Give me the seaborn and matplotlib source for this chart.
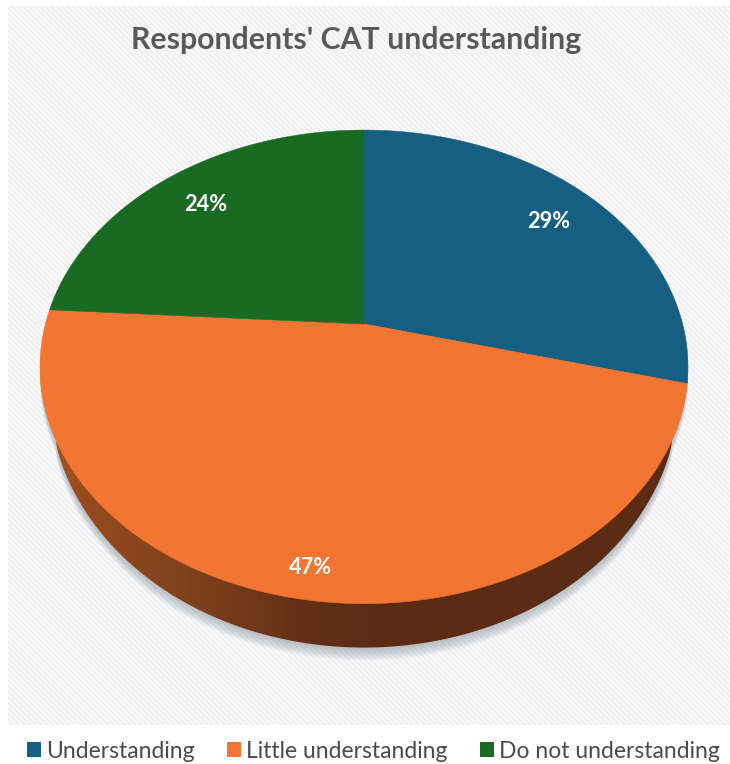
import numpy as np
import matplotlib
matplotlib.use("Agg")
import matplotlib.pyplot as plt
from matplotlib.patches import Polygon, Rectangle, Patch
import seaborn as sns

categories = ["Understanding", "Little understanding", "Do not understanding"]
shares = [29, 47, 24]
slice_colors = ["#156082", "#F27531", "#196B24"]
label_radius = [0.8, 0.9, 0.8]

title = "Respondents' CAT understanding"

sns.set_theme(style="white")
plt.rcParams["font.family"] = ["Lato", "DejaVu Sans"]
plt.rcParams["hatch.linewidth"] = 0.7
palette = sns.color_palette(slice_colors)

W, H = 730, 764
fig = plt.figure(figsize=(W / 100, H / 100), dpi=100, facecolor="white")
ax = fig.add_axes([0, 0, 1, 1])
ax.set_xlim(0, W)
ax.set_ylim(H, 0)
ax.axis("off")

# Tilted disc: perspective projection of a unit circle onto pixel space
APEX_X, APEX_Y = 364.0, 324.0
TILT, SCALE_X, SCALE_Y = 0.181, 318.6, 229.0


def project(x, y):
    w = 1 + TILT * y
    return APEX_X + SCALE_X * x / w, APEX_Y - SCALE_Y * y / w


def rim(a0, a1, n=240):
    a = np.radians(np.linspace(a0, a1, n))
    return np.sin(a), np.cos(a)


# Rim thickness of the disc, tapering to nothing at the sides
DEPTH = 44.0
TIP = 0.31
ELL_CY, ELL_RY = 367.0, 237.0


def lower_edge(px, py):
    c = np.clip((py - ELL_CY) / ELL_RY, -1, 1)
    t = np.clip((c - TIP) / (1 - TIP), 0, 1)
    return px, py + DEPTH * np.sqrt(t)


# Textured backdrop panel
ax.add_patch(Rectangle((8, 6), W - 8, 719, facecolor="#F8F8F9", edgecolor="none", zorder=0))
ax.add_patch(Rectangle((8, 6), W - 8, 719, facecolor="none", edgecolor="#EAEAED",
                       hatch="\\\\\\\\\\\\", linewidth=0, zorder=0.5))

# Outline of the full solid, used for the side wall and the drop shadow
rx, ry = rim(0, 360, 720)
tx, ty = project(rx, ry)
bx, by = lower_edge(tx, ty)

# Soft shadow under the lower rim
for i in range(1, 14):
    ax.add_patch(Polygon(np.column_stack([bx, by + i * 1.0]), closed=True,
                         facecolor="#9AA5AC", edgecolor="none", alpha=0.07, zorder=1))

# Side wall with a horizontal light-to-dark gradient
front = ty > ELL_CY
order = np.argsort(tx[front])
fx, fy_top, fy_bot = tx[front][order], ty[front][order], by[front][order]
wall = Polygon(np.column_stack([np.r_[fx, fx[::-1]], np.r_[fy_top - 2, fy_bot[::-1]]]),
               closed=True, facecolor="none", edgecolor="none", zorder=2)
ax.add_patch(wall)
xs = np.linspace(0, 1, W)[None, :]
stops_x = np.array([40, 90, 200, 300, 380, W]) / W
stops_c = np.array([[0.66, 0.34, 0.13], [0.58, 0.29, 0.12], [0.49, 0.25, 0.11],
                    [0.39, 0.19, 0.09], [0.36, 0.17, 0.08], [0.36, 0.17, 0.08]])
rgb = np.stack([np.interp(xs, stops_x, stops_c[:, k]) for k in range(3)], axis=-1)
img = ax.imshow(rgb, extent=(0, W, H, 0), aspect="auto", zorder=2)
img.set_clip_path(wall)
ax.set_xlim(0, W)
ax.set_ylim(H, 0)

# Top face slices, sweeping clockwise from twelve o'clock
edges = np.cumsum([0] + shares) / sum(shares) * 360
for k, share in enumerate(shares):
    sx, sy = rim(edges[k], edges[k + 1])
    px, py = project(sx, sy)
    verts = np.column_stack([np.r_[APEX_X, px], np.r_[APEX_Y, py]])
    ax.add_patch(Polygon(verts, closed=True, facecolor=palette[k],
                         edgecolor=palette[k], linewidth=0.4, zorder=3))
    mid = np.radians((edges[k] + edges[k + 1]) / 2)
    lx, ly = project(label_radius[k] * np.sin(mid), label_radius[k] * np.cos(mid))
    ax.text(lx, ly + 1, f"{share}%", color="white", fontsize=15.7, fontweight="bold",
            ha="center", va="center", zorder=4)

ax.text(356, 40, title, color="#595959", fontsize=21.8, fontweight="bold",
        ha="center", va="center", zorder=4)

handles = [Patch(facecolor=palette[k], edgecolor="none", label=categories[k])
           for k in range(len(categories))]
ax.legend(handles=handles, loc="center", bbox_to_anchor=(373.5 / W, 1 - 751 / H),
          ncol=3, frameon=False, fontsize=16.5, labelcolor="#4A4A4A",
          handlelength=0.62, handleheight=0.66, handletextpad=0.2,
          columnspacing=1.42, borderpad=0, borderaxespad=0)

fig.savefig("out.png", dpi=100)
